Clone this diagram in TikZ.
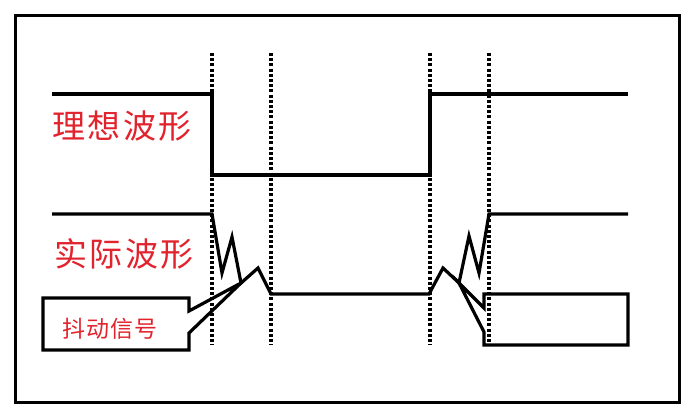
\documentclass[tikz,border=0pt]{standalone}
\usepackage{fontspec}
\newfontfamily\cjkbig[LetterSpace=8]{Noto Sans CJK SC}
\newfontfamily\cjksmall[LetterSpace=3]{Noto Sans CJK SC}
\definecolor{labelred}{RGB}{225,35,45}

\begin{document}
\begin{tikzpicture}[x=1pt, y=-1pt]
    % Styles
    \tikzstyle{frame} = [line width=3pt]
    \tikzstyle{wave} = [line width=3.2pt]
    \tikzstyle{marker} = [line width=3.6pt, dash pattern=on 3pt off 2.2pt]
    \tikzstyle{title} = [font=\cjkbig\fontsize{33}{33}\selectfont,
        text=labelred, inner sep=0pt]
    \tikzstyle{note} = [font=\cjksmall\fontsize{23}{23}\selectfont,
        text=labelred, inner sep=0pt]

    \useasboundingbox (0,0) rectangle (693,419);

    % === Outer frame ===
    \draw [frame] (15,16) rectangle (679,402);

    % === Time markers ===
    \foreach \t in {212,271,430,489}
        \draw [marker] (\t,53) -- (\t,345);

    % === Ideal waveform ===
    \draw [wave] (52,94) -- (212,94) -- (212,175) -- (430,175)
        -- (430,94) -- (628,94);

    % === Actual waveform ===
    \draw [wave] (52,214) -- (212,214) -- (222,273) -- (232,237)
        -- (241,283) -- (258,268) -- (271,294) -- (429,294)
        -- (443,268) -- (459,283) -- (469,236) -- (479,273)
        -- (489,214) -- (628,214);

    % === Callouts ===
    \draw [wave] (43,298) -- (189,298) -- (189,311) -- (241,283)
        -- (189,333) -- (189,350) -- (43,350) -- cycle;
    \draw [wave] (459,283) -- (484,308) -- (484,294) -- (628,294)
        -- (628,345) -- (484,345) -- (484,332) -- cycle;

    % === Labels ===
    \node [title] (ideal) at (122,126) {理想波形};
    \node [title] (actual) at (124,254) {实际波形};
    \node [note] (jitter) at (110,329) {抖动信号};

\end{tikzpicture}
\end{document}
